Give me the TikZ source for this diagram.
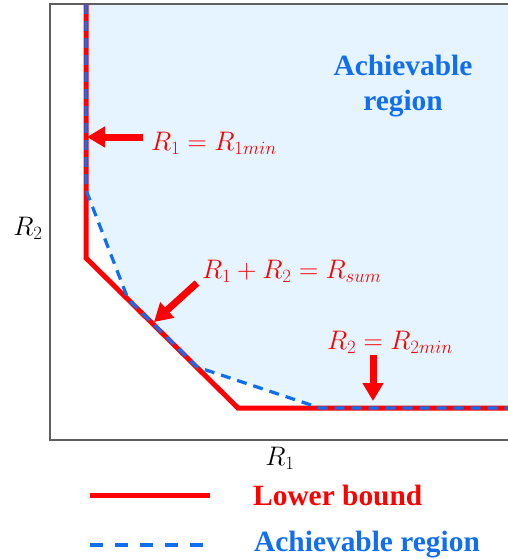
\RequirePackage{fix-cm}
\documentclass[tikz,border=0pt]{standalone}
\usepackage[no-math]{fontspec}
\newfontfamily\legendfont{Liberation Serif}
\usetikzlibrary{arrows.meta}
\definecolor{lbred}{RGB}{255,0,0}
\definecolor{achblue}{RGB}{18,110,240}
\definecolor{achfill}{RGB}{229,244,254}
\definecolor{framegray}{RGB}{95,95,95}
\begin{document}
\begin{tikzpicture}[x=1pt, y=-1pt,
  lower/.style={draw=lbred, line width=5pt},
  achline/.style={draw=achblue, line width=3.2pt, dash pattern=on 10pt off 7pt},
  bigarrow/.style={draw=lbred, line width=7pt, -{Triangle[length=18pt, width=20pt]}},
  mathlabel/.style={text=lbred, font=\fontsize{26.8}{30}\selectfont, inner sep=0pt},
  legtext/.style={font=\legendfont\bfseries\fontsize{29.4}{35}\selectfont, inner sep=0pt}]
\useasboundingbox (0,0) rectangle (508,559);
% region above the achievable curve
\fill[achfill] (86,4) -- (508,4) -- (508,408) -- (320,408) -- (197,367)
  -- (128,299) -- (86,190) -- cycle;
% axes frame
\draw[framegray, line width=2pt] (508,4) -- (50,4) -- (50,440) -- (508,440);
\node (r2) at (28,228) {\fontsize{26.8}{30}\selectfont $R_2$};
\node (r1) at (280,458) {\fontsize{26.8}{30}\selectfont $R_1$};
% lower bound
\coordinate (lbtop) at (86,4);
\coordinate (lbcorner) at (86,258);
\coordinate (lbknee) at (238,408);
\coordinate (lbend) at (508,408);
\draw[lower] (lbtop) -- (lbcorner) -- (lbknee) -- (lbend);
% achievable region
\coordinate (acsplit) at (86,190);
\coordinate (acmeet) at (128,299);
\coordinate (acleave) at (197,367);
\coordinate (acflat) at (320,408);
\draw[achline] (lbtop) -- (acsplit) -- (acmeet) -- (acleave) -- (acflat) -- (lbend);
\node[text=achblue, legtext, align=center] (achlabel) at (403,86)
  {Achievable\\region};
% arrows and labels
\coordinate (tipa) at (87,137);
\coordinate (taila) at (143,137);
\coordinate (tipb) at (154,322);
\coordinate (tailb) at (197,283);
\coordinate (tipc) at (373,401);
\coordinate (tailc) at (373,355);
\draw[bigarrow] (taila) -- (tipa);
\draw[bigarrow] (tailb) -- (tipb);
\draw[bigarrow] (tailc) -- (tipc);
\node[mathlabel, anchor=west] (eqa) at (151,143) {$R_1 = R_{1min}$};
\node[mathlabel, anchor=west] (eqb) at (202,271) {$R_1 + R_2 = R_{sum}$};
\node[mathlabel, anchor=west] (eqc) at (327,342) {$R_2 = R_{2min}$};
% legend
\coordinate (lga) at (90,495);
\coordinate (lgb) at (210,495);
\coordinate (lgc) at (90,545);
\coordinate (lgd) at (210,545);
\draw[lower] (lga) -- (lgb);
\draw[achline, dash pattern=on 13pt off 12pt] (lgc) -- (lgd);
\node[legtext, text=lbred, anchor=west] (lglower) at (253,495) {Lower bound};
\node[legtext, text=achblue, anchor=west] (lgach) at (254,545) {Achievable region};
\end{tikzpicture}
\end{document}
